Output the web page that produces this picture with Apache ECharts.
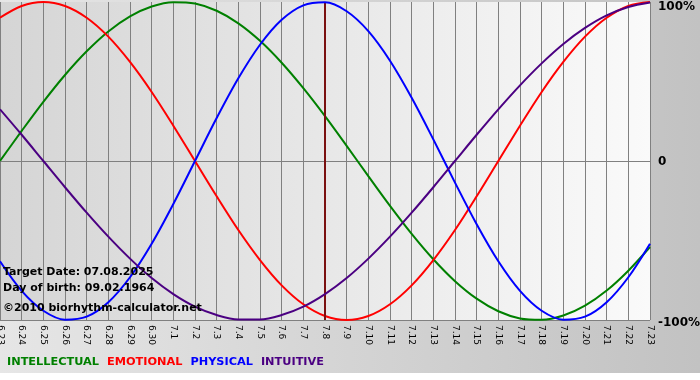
<!DOCTYPE html>
<html>
<head>
<meta charset="utf-8">
<script src="https://cdn.jsdelivr.net/npm/echarts@6/dist/echarts.min.js"></script>
<style>html,body{margin:0;padding:0;background:#fff}#c{width:700px;height:380px}</style>
</head>
<body>
<div id="c"></div>
<script>
var days = ['6.23','6.24','6.25','6.26','6.27','6.28','6.29','6.30','7.1','7.2','7.3','7.4','7.5','7.6','7.7','7.8','7.9','7.10','7.11','7.12','7.13','7.14','7.15','7.16','7.17','7.18','7.19','7.20','7.21','7.22','7.23'];
var intellectual = [0,18.9,37.2,54.1,69.0,81.5,91.0,97.2,99.9,99.0,94.5,86.6,75.6,61.8,45.8,28.2,9.5,-9.5,-28.2,-45.8,-61.8,-75.6,-86.6,-94.5,-99.0,-99.9,-97.2,-91.0,-81.5,-69.0,-54.1];
var emotional = [90.1,97.5,100,97.5,90.1,78.2,62.3,43.4,22.2,0,-22.2,-43.4,-62.3,-78.2,-90.1,-97.5,-100,-97.5,-90.1,-78.2,-62.3,-43.4,-22.2,0,22.2,43.4,62.3,78.2,90.1,97.5,100];
var physical = [-63.1,-81.7,-94.2,-99.8,-97.9,-88.8,-73.1,-52.0,-27.0,0,27.0,52.0,73.1,88.8,97.9,99.8,94.2,81.7,63.1,39.8,13.6,-13.6,-39.8,-63.1,-81.7,-94.2,-99.8,-97.9,-88.8,-73.1,-52.0];
var intuitive = [32.5,16.5,0,-16.5,-32.5,-47.6,-61.4,-73.6,-83.7,-91.6,-96.9,-99.7,-99.7,-96.9,-91.6,-83.7,-73.6,-61.4,-47.6,-32.5,-16.5,0,16.5,32.5,47.6,61.4,73.6,83.7,91.6,96.9,99.7];
var seriesNames = ['INTELLECTUAL','EMOTIONAL','PHYSICAL','INTUITIVE'];
var seriesColors = ['#008000','#ff0000','#0000ff','#4b0082'];
var targetDay = '7.8';
var infoLines = ['Target Date: 07.08.2025','Day of birth: 09.02.1964','\u00a92010 biorhythm-calculator.net'];
var yTicks = {'100':'{top|100%}','0':'{mid|0}','-100':'{bot|-100%}'};

var chart = echarts.init(document.getElementById('c'), null, {renderer:'canvas'});
var dataSets = [intellectual, emotional, physical, intuitive];
var series = dataSets.map(function(d, i){
  return {
    name: seriesNames[i], type:'line', data:d, smooth:0.33, showSymbol:false,
    lineStyle:{color:seriesColors[i], width:2}, itemStyle:{color:seriesColors[i]},
    z: 3 + i
  };
});
series.unshift({
  type:'line', data:[], z:2,
  markLine:{silent:true, symbol:'none', label:{show:false},
    lineStyle:{color:'#7a1010', width:2, type:'solid'},
    data:[{xAxis:targetDay}]}
});
var font = 'DejaVu Sans, Verdana, sans-serif';
var lblStyle = {color:'#000', fontSize:12, fontWeight:'bold', fontFamily:font};
chart.setOption({
  animation:false,
  backgroundColor:{type:'linear',x:0,y:0,x2:1,y2:0,colorStops:[{offset:0,color:'#e6e6e6'},{offset:1,color:'#c2c2c2'}]},
  grid:{left:0,right:50,top:2,bottom:60,show:true,borderWidth:0,containLabel:false,outerBoundsMode:'none',
    backgroundColor:{type:'linear',x:0,y:0,x2:1,y2:0,colorStops:[{offset:0,color:'#d5d5d5'},{offset:1,color:'#fafafa'}]}},
  legend:{left:2, top:357, padding:0, itemWidth:0, itemHeight:0, itemGap:3, selectedMode:false,
    textStyle:{fontFamily:font, fontWeight:'bold', fontSize:11.3},
    data: seriesNames.map(function(n,i){return {name:n, icon:'none', textStyle:{color:seriesColors[i]}};})},
  xAxis:{type:'category', data:days, boundaryGap:false,
    axisLine:{show:true, lineStyle:{color:'#808080', width:1}},
    axisTick:{show:true, interval:0, length:4, lineStyle:{color:'#808080'}},
    axisLabel:{interval:0, rotate:-90, margin:5, color:'#000', fontSize:9, fontFamily:font},
    splitLine:{show:true, interval:0, lineStyle:{color:'#808080', width:1}}},
  yAxis:{type:'value', position:'right', min:-100, max:100, interval:100,
    axisLine:{show:false}, axisTick:{show:false},
    axisLabel:{margin:8, color:'#000', fontSize:12, fontWeight:'bold', fontFamily:font,
      formatter:function(v){return yTicks[String(v)];},
      rich:{
        top:Object.assign({padding:[10,0,0,0]}, lblStyle),
        mid:Object.assign({padding:[2,0,0,0]}, lblStyle),
        bot:Object.assign({padding:[5,0,0,0]}, lblStyle)
      }},
    splitLine:{show:true, lineStyle:{color:['#808080','#808080','rgba(0,0,0,0)'], width:1}}},
  graphic:[
    {type:'rect', left:0, top:373, shape:{width:700,height:7}, style:{fill:'#ffffff'}, z:0},
    {type:'text', left:3, top:267, z:10, style:{text:infoLines[0], fill:'#000', font:'bold 11px '+font}},
    {type:'text', left:3, top:283, z:10, style:{text:infoLines[1], fill:'#000', font:'bold 11px '+font}},
    {type:'text', left:3, top:303, z:10, style:{text:infoLines[2], fill:'#000', font:'bold 11px '+font}}
  ],
  series: series
});
</script>
</body>
</html>
